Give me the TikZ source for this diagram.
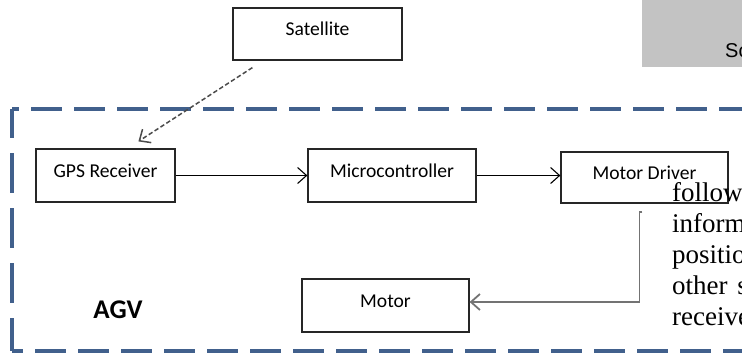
\documentclass[tikz,border=0pt]{standalone}
\usepackage{fontspec}
\setmainfont{Liberation Serif}
\newfontfamily\boxfont{Carlito}
\newfontfamily\arialfont{Liberation Sans}
\usetikzlibrary{arrows.meta,calc}
\definecolor{agvblue}{RGB}{65,96,140}
\definecolor{shadegray}{RGB}{195,195,195}

\begin{document}
\begin{tikzpicture}[x=1pt,y=-1pt,
    block/.style={draw=black!85, line width=1.2pt, inner sep=0pt,
        minimum height=53pt, text height=13pt, text depth=9pt,
        font=\boxfont\fontsize{19.6}{22}\selectfont},
    flow/.style={line width=1.1pt, -{Straight Barb[length=9pt,width=16pt]}},
    agvline/.style={draw=agvblue, line width=4pt, dash pattern=on 31pt off 12pt},
    bodytext/.style={anchor=base west, inner sep=0pt, font=\fontsize{27}{31}\selectfont}
]
    \useasboundingbox (0,0) rectangle (742,353);
    \clip (0,0) rectangle (742,353);

    % Shaded corner of the page
    \fill [shadegray] (642,0) rectangle (742,67);
    \node [anchor=base west, inner sep=0pt, font=\arialfont\fontsize{20}{24}\selectfont] (sc) at (725,58) {Sc};

    % AGV boundary: open on the right
    \draw [agvline, line width=4.5pt, dash phase=24pt] (12,109) -- (760,109);
    \draw [agvline, line width=3.5pt, dash pattern=on 40pt off 15pt, dash phase=11pt] (12,109) -- (12,351);
    \draw [agvline, dash phase=20pt] (12,351) -- (760,351);
    \node [font=\boxfont\bfseries\fontsize{27}{32}\selectfont, inner sep=0pt] (agv) at (118,310) {AGV};

    % Blocks
    \node [block, minimum width=169pt, minimum height=52pt] (sat) at (317.5,34) {Satellite};
    \node [block, minimum width=139pt] (gps) at (105.5,175.5) {GPS Receiver};
    \node [block, minimum width=168pt] (mcu) at (392,175.5) {Microcontroller};
    \node [block, minimum width=167pt, minimum height=51pt] (drv) at (644.5,177.5) {Motor Driver};
    \node [block, minimum width=167pt] (mot) at (385.5,305.5) {Motor};

    % Wireless link
    \draw [flow, draw=black!70, line width=1.5pt, dash pattern=on 4.5pt off 2.5pt]
        ($(sat.south west)+(20,7)$) -- ($(gps.north west)+(103,-7)$);

    % Signal path
    \draw [flow] (gps.east) -- (mcu.west);
    \draw [flow] (mcu.east) -- (mcu.east -| drv.west);
    \coordinate (tap) at ($(drv.south west)+(79,8)$);
    \draw [flow, draw=black!55, line width=1.8pt]
        ($(tap)+(3,0)$) -- (tap) |- ($(mot.east)+(0,-3.5)$);

    % Text of the page running over the figure
    \node [bodytext] (l1) at (672,201) {follow};
    \node [bodytext] (l2) at (672,232) {inform};
    \node [bodytext] (l3) at (672,263) {positio};
    \node [bodytext] (l4) at (672,294) {other\hspace{3pt} s};
    \node [bodytext] (l5) at (672,325) {receive};

\end{tikzpicture}
\end{document}
